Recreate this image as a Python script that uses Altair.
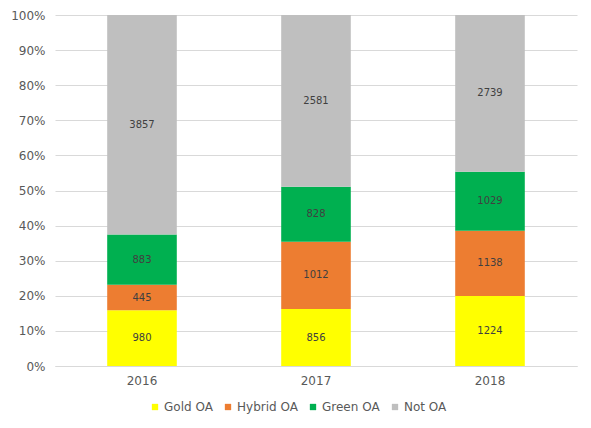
import altair as alt
import pandas as pd

years = ["2016", "2017", "2018"]
series = ["Gold OA", "Hybrid OA", "Green OA", "Not OA"]
gold = [980, 856, 1224]
hybrid = [445, 1012, 1138]
green = [883, 828, 1029]
not_oa = [3857, 2581, 2739]
colors = ["#FFFF00", "#ED7D31", "#00B050", "#BFBFBF"]
ticks = [0, 0.1, 0.2, 0.3, 0.4, 0.5, 0.6, 0.7, 0.8, 0.9, 1.0]

rows = []
for s_i, (name, vals) in enumerate(zip(series, [gold, hybrid, green, not_oa])):
    for y, v in zip(years, vals):
        rows.append({"year": y, "series": name, "value": v, "idx": s_i})
df = pd.DataFrame(rows)

FONT = "DejaVu Sans"

base = alt.Chart(df).transform_stack(
    stack="value",
    groupby=["year"],
    sort=[alt.SortField("idx", order="ascending")],
    as_=["y0", "y1"],
    offset="normalize",
).transform_calculate(mid="(datum.y0 + datum.y1) / 2")

xaxis = alt.Axis(
    title=None, labelAngle=0, ticks=False, domain=True, domainColor="#d9d9d9",
    labelFont=FONT, labelFontSize=12, labelColor="#595959", labelPadding=9,
)
xscale = alt.Scale(paddingInner=0.6, paddingOuter=0.3)
yaxis = alt.Axis(
    title=None, format="%", values=ticks, labelOverlap=False,
    ticks=False, domain=False, grid=True, gridColor="#d9d9d9",
    labelFont=FONT, labelFontSize=12, labelColor="#595959", labelPadding=10,
)
yscale = alt.Scale(domain=[0, 1], nice=False)

bars = base.mark_bar().encode(
    x=alt.X("year:N", scale=xscale, axis=xaxis),
    y=alt.Y("y0:Q", scale=yscale, axis=yaxis),
    y2="y1:Q",
    color=alt.Color(
        "series:N",
        scale=alt.Scale(domain=series, range=colors),
        legend=alt.Legend(
            title=None, orient="none", direction="horizontal",
            legendX=94, legendY=386,
            symbolType="square", symbolSize=40, symbolStrokeWidth=0,
            labelFont=FONT, labelFontSize=12, labelColor="#595959",
            labelOffset=3, columnPadding=9, padding=0,
        ),
    ),
)

labels = base.mark_text(font=FONT, fontSize=10, color="#404040").encode(
    x=alt.X("year:N", scale=xscale, axis=xaxis),
    y=alt.Y("mid:Q", scale=yscale, axis=yaxis),
    text=alt.Text("value:Q"),
)

chart = alt.layer(bars, labels).properties(
    width=522, height=351,
    padding={"left": 47, "top": 7, "right": 6, "bottom": 58},
    autosize=alt.AutoSizeParams(type="none"),
    background="white",
).configure_view(stroke=None)

chart.save("out.html", embed_options={"renderer": "svg", "actions": False})
